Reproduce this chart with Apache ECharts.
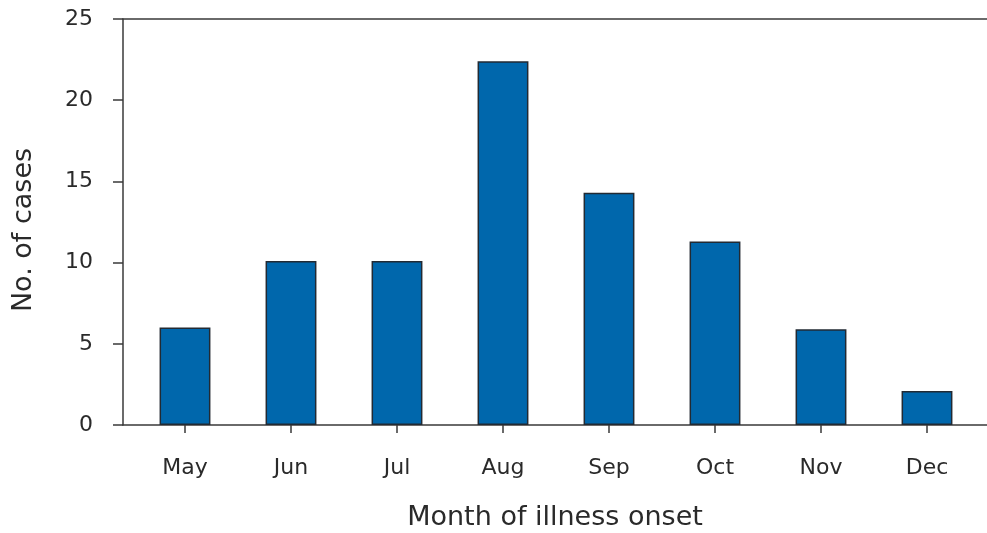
<!DOCTYPE html>
<html>
<head>
<meta charset="utf-8">
<script src="https://cdn.jsdelivr.net/npm/echarts@6/dist/echarts.min.js"></script>
<style>html,body{margin:0;padding:0;background:#fff;}#c{width:987px;height:533px;}</style>
</head>
<body>
<div id="c"></div>
<script>
const months = ['May', 'Jun', 'Jul', 'Aug', 'Sep', 'Oct', 'Nov', 'Dec'];
const cases = [6.0, 10.1, 10.1, 22.4, 14.3, 11.3, 5.9, 2.1];
const yTicks = [0, 5, 10, 15, 20, 25];
const xTitle = 'Month of illness onset';
const yTitle = 'No. of cases';

const FONT = 'DejaVu Sans';
const TXT = '#2a2a2a';
const AX = '#3a3a3a';

const chart = echarts.init(document.getElementById('c'));
chart.setOption({
  animation: false,
  backgroundColor: '#fff',
  grid: [
    { left: 123, right: 0, top: 19, bottom: 108, containLabel: false, outerBoundsMode: 'none' },
    { left: 132, right: 7, top: 19, bottom: 108, containLabel: false, outerBoundsMode: 'none' }
  ],
  xAxis: [
    { gridIndex: 0, type: 'value', min: 0, max: 1, position: 'bottom',
      axisLine: { show: true, lineStyle: { color: AX, width: 1.5 } },
      axisTick: { show: false }, axisLabel: { show: false }, splitLine: { show: false },
      name: xTitle, nameLocation: 'middle', nameGap: 79,
      nameTextStyle: { fontFamily: FONT, fontSize: 27, color: TXT } },
    { gridIndex: 0, type: 'value', min: 0, max: 1, position: 'top',
      axisLine: { show: true, lineStyle: { color: AX, width: 1.5 } },
      axisTick: { show: false }, axisLabel: { show: false }, splitLine: { show: false } },
    { gridIndex: 1, type: 'category', data: months, position: 'bottom',
      axisLine: { show: false },
      axisTick: { show: true, alignWithLabel: true, length: 8, lineStyle: { color: AX, width: 1.5 } },
      axisLabel: { margin: 32, fontFamily: FONT, fontSize: 22, color: TXT },
      splitLine: { show: false } }
  ],
  yAxis: [
    { gridIndex: 0, type: 'value', min: yTicks[0], max: yTicks[yTicks.length - 1], interval: 5,
      axisLine: { show: true, lineStyle: { color: AX, width: 1.5 } },
      axisTick: { show: true, inside: false, length: 10, lineStyle: { color: AX, width: 1.5 } },
      axisLabel: { margin: 30, fontFamily: FONT, fontSize: 22, color: TXT },
      splitLine: { show: false },
      name: yTitle, nameLocation: 'middle', nameGap: 86, nameRotate: 90,
      nameTextStyle: { fontFamily: FONT, fontSize: 27, color: TXT, padding: [0, 16, 0, 0] } },
    { gridIndex: 1, type: 'value', min: yTicks[0], max: yTicks[yTicks.length - 1], show: false }
  ],
  series: [{
    type: 'bar',
    xAxisIndex: 2,
    yAxisIndex: 1,
    data: cases,
    barWidth: '48%',
    itemStyle: { color: '#0067ac', borderColor: '#222a33', borderWidth: 1.5 }
  }]
});
</script>
</body>
</html>
